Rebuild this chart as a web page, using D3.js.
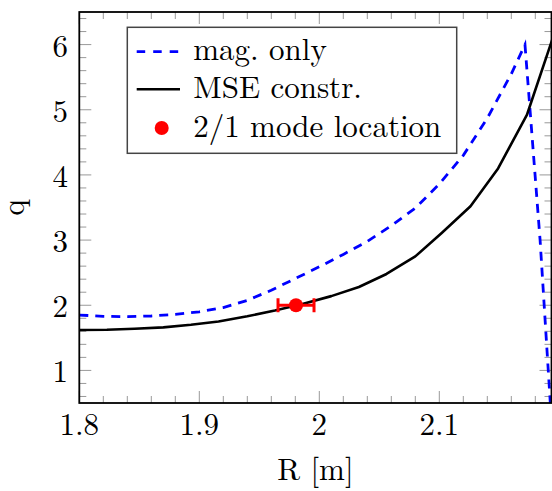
<!DOCTYPE html>
<html><head><meta charset="utf-8">
<script src="https://cdn.jsdelivr.net/npm/d3@7"></script>
<style>body{margin:0;background:#fff}svg{display:block}</style>
</head><body><svg id="c" width="552" height="491"></svg>
<script>
// Data
const magR = [1.80,1.82,1.84,1.86,1.88,1.90,1.92,1.94,1.96,1.98,2.00,2.02,2.04,2.06,2.08,2.10,2.12,2.14,2.16,2.1714,2.184,2.1925];
const magQ = [1.85,1.83,1.825,1.835,1.86,1.90,1.965,2.075,2.23,2.41,2.59,2.78,2.98,3.22,3.49,3.86,4.30,4.87,5.55,6.00,3.0,0.5];
const mseR = [1.800,1.823,1.846,1.870,1.893,1.916,1.940,1.963,1.986,2.010,2.033,2.056,2.080,2.102,2.126,2.149,2.173,2.196];
const mseQ = [1.62,1.625,1.64,1.66,1.70,1.75,1.83,1.92,2.02,2.14,2.28,2.48,2.75,3.11,3.52,4.10,4.92,6.18];
const modeR = [1.9806], modeQ = [2.0], modeErr = [0.015];
const xTicks = [1.8,1.9,2.0,2.1];
const xTickLabels = ["1.8","1.9","2","2.1"];
const yTicks = [1,2,3,4,5,6];
const yTickLabels = ["1","2","3","4","5","6"];
const legendLabels = ["mag. only","MSE constr.","2/1 mode location"];

const FONT = '"Latin Modern Roman"';
const svg = d3.select("#c");
const L = 79.3, R = 551.5, T = 12, B = 403;
const x = d3.scaleLinear().domain([1.8, 2.1935]).range([L, R]);
const y = d3.scaleLinear().domain([0.5, 6.5]).range([B, T]);

svg.append("clipPath").attr("id","clip").append("rect")
  .attr("x",L).attr("y",T).attr("width",R-L).attr("height",B-T);

// ticks
const tickColor = "#999";
const xMinor = d3.range(1.80, 2.1935, 0.02).filter(v => !xTicks.some(t => Math.abs(t-v)<1e-6));
const yMinor = d3.range(0.6, 6.5, 0.2).filter(v => !yTicks.some(t => Math.abs(t-v)<1e-6));
const tg = svg.append("g").attr("stroke", tickColor).attr("stroke-width", 1);
function xt(vals, len){
  vals.forEach(v => {
    tg.append("line").attr("x1",x(v)).attr("x2",x(v)).attr("y1",B).attr("y2",B-len);
    tg.append("line").attr("x1",x(v)).attr("x2",x(v)).attr("y1",T).attr("y2",T+len);
  });
}
function yt(vals, len){
  vals.forEach(v => {
    tg.append("line").attr("y1",y(v)).attr("y2",y(v)).attr("x1",L).attr("x2",L+len);
    tg.append("line").attr("y1",y(v)).attr("y2",y(v)).attr("x1",R).attr("x2",R-len);
  });
}
xt(xTicks,12); xt(xMinor,7); yt(yTicks,12); yt(yMinor,7);

// curves
const line = d3.line().x(d=>x(d[0])).y(d=>y(d[1]));
const cg = svg.append("g").attr("clip-path","url(#clip)");
cg.append("path").datum(magR.map((r,i)=>[r,magQ[i]])).attr("d",line)
  .attr("fill","none").attr("stroke","#0000ff").attr("stroke-width",2.8).attr("stroke-dasharray","9,7");
cg.append("path").datum(mseR.map((r,i)=>[r,mseQ[i]])).attr("d",line)
  .attr("fill","none").attr("stroke","#000").attr("stroke-width",2.6).attr("stroke-linejoin","round");

// mode location with error bar
modeR.forEach((r,i)=>{
  const g = cg.append("g").attr("stroke","#ff0000").attr("stroke-width",3);
  g.append("line").attr("x1",x(r-modeErr[i])).attr("x2",x(r+modeErr[i])).attr("y1",y(modeQ[i])).attr("y2",y(modeQ[i]));
  [r-modeErr[i], r+modeErr[i]].forEach(e=>{
    g.append("line").attr("x1",x(e)).attr("x2",x(e)).attr("y1",y(modeQ[i])-7).attr("y2",y(modeQ[i])+7);
  });
  cg.append("circle").attr("cx",x(r)).attr("cy",y(modeQ[i])).attr("r",7).attr("fill","#ff0000");
});

// frame
svg.append("rect").attr("x",L).attr("y",T).attr("width",R-L).attr("height",B-T)
  .attr("fill","none").attr("stroke","#000").attr("stroke-width",1.8);

// tick labels
svg.append("g").selectAll("text").data(xTicks).join("text")
  .attr("font-family",FONT)
  .attr("x",d=>x(d)).attr("y",435).attr("text-anchor","middle").attr("font-size",31)
  .text((d,i)=>xTickLabels[i]);
svg.append("g").selectAll("text").data(yTicks).join("text")
  .attr("font-family",FONT)
  .attr("x",68).attr("y",d=>y(d)+12).attr("text-anchor","end").attr("font-size",31)
  .text((d,i)=>yTickLabels[i]);

// axis labels
svg.append("text").attr("font-family",FONT).attr("x",(L+R)/2).attr("y",480).attr("text-anchor","middle").attr("font-size",31).text("R [m]");
svg.append("text").attr("font-family",FONT).attr("transform",`translate(24,${(T+B)/2}) rotate(-90)`).attr("text-anchor","middle").attr("font-size",31).text("q");

// legend
const lg = svg.append("g");
lg.append("rect").attr("x",127.3).attr("y",27.3).attr("width",329.4).attr("height",126)
  .attr("fill","#fff").attr("stroke","#444").attr("stroke-width",1.5);
lg.append("line").attr("x1",136.7).attr("x2",180).attr("y1",51.7).attr("y2",51.7)
  .attr("stroke","#0000ff").attr("stroke-width",2.8).attr("stroke-dasharray","8.5,8");
lg.append("line").attr("x1",136.7).attr("x2",180).attr("y1",89.3).attr("y2",89.3)
  .attr("stroke","#000").attr("stroke-width",2.6);
lg.append("circle").attr("cx",161.7).attr("cy",128).attr("r",7).attr("fill","#ff0000");
[60,98.3,136.7].forEach((by,i)=>{
  lg.append("text").attr("font-family",FONT).attr("x",193.3).attr("y",by).attr("font-size",31).text(legendLabels[i]);
});
</script></body></html>
